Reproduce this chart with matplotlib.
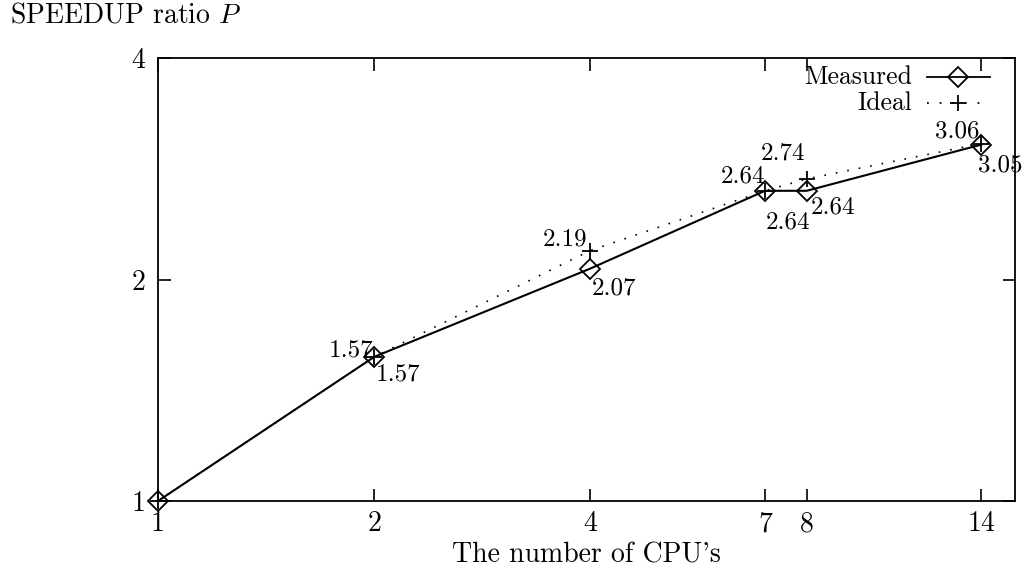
import matplotlib
matplotlib.use("Agg")
import matplotlib.pyplot as plt
from matplotlib.ticker import FixedLocator, NullLocator, FixedFormatter

plt.rcParams["font.family"] = "serif"
plt.rcParams["font.serif"] = ["cmr10", "DejaVu Serif"]
plt.rcParams["mathtext.fontset"] = "cm"
plt.rcParams["axes.unicode_minus"] = False
plt.rcParams["axes.formatter.use_mathtext"] = True

# data
cpus = [1, 2, 4, 7, 8, 14]
measured = [1.0, 1.57, 2.07, 2.64, 2.64, 3.05]
ideal = [1.0, 1.57, 2.19, 2.64, 2.74, 3.06]
measured_labels = ["", "1.57", "2.07", "2.64", "2.64", "3.05"]
ideal_labels = ["", "1.57", "2.19", "2.64", "2.74", "3.06"]
xticks = [1, 2, 4, 7, 8, 14]
yticks = [1, 2, 4]

# label nudges in pixels (ideal: right/baseline, measured: left/baseline)
ideal_off = [(0, 0), (-1, 0), (-3, 5), (0, 8), (-1, 19), (-2, 6)]
meas_off = [(0, 0), (2, -24), (1, -26), (1, -38), (4, -23), (-3, -27)]

DOTS = (0, (1, 6))

fig = plt.figure(figsize=(10.24, 5.75), dpi=100)
ax = fig.add_axes([0.1543, 0.1287, 0.8369, 0.7704])

ax.plot(cpus, ideal, color="black", lw=1.2, linestyle=DOTS,
        marker="+", markersize=11, markeredgewidth=1.3, clip_on=False)
ax.plot(cpus, measured, color="black", lw=1.5, linestyle="-",
        marker="D", markersize=10, markerfacecolor="none",
        markeredgecolor="black", markeredgewidth=1.3, clip_on=False)

for x, y, s, (dx, dy) in zip(cpus, ideal, ideal_labels, ideal_off):
    if s:
        ax.annotate(s, (x, y), xytext=(dx, dy), textcoords="offset pixels",
                    ha="right", va="baseline", fontsize=18)
for x, y, s, (dx, dy) in zip(cpus, measured, measured_labels, meas_off):
    if s:
        ax.annotate(s, (x, y), xytext=(dx, dy), textcoords="offset pixels",
                    ha="left", va="baseline", fontsize=18)

ax.set_xscale("log")
ax.set_yscale("log")
ax.set_xlim(1, 15.6)
ax.set_ylim(1, 4)
ax.xaxis.set_major_locator(FixedLocator(xticks))
ax.xaxis.set_major_formatter(FixedFormatter([str(t) for t in xticks]))
ax.xaxis.set_minor_locator(NullLocator())
ax.yaxis.set_major_locator(FixedLocator(yticks))
ax.yaxis.set_major_formatter(FixedFormatter([str(t) for t in yticks]))
ax.yaxis.set_minor_locator(NullLocator())
ax.tick_params(direction="in", top=True, right=True, length=9, width=1.2,
               labelsize=20)
ax.tick_params(axis="x", pad=7)
ax.tick_params(axis="y", pad=9)

for sp in ax.spines.values():
    sp.set_linewidth(1.3)

ax.set_xlabel("The number of CPU's", fontsize=20, labelpad=4)
fig.text(0.010, 0.997, r"SPEEDUP ratio $P$", fontsize=20, ha="left", va="top")

# legend drawn by hand (right-aligned text, sample after text)
lx0, lx1, lxm, ltx = 0.897, 0.971, 0.933, 0.880
for yy, name, ls, mk, kw in [
        (0.957, "Measured", "-", "D", dict(markersize=10, markerfacecolor="none")),
        (0.898, "Ideal", DOTS, "+", dict(markersize=11))]:
    ax.text(ltx, yy, name, transform=ax.transAxes, ha="right",
            va="center", fontsize=18.5)
    ax.plot([lx0, lx1], [yy, yy], transform=ax.transAxes, color="black",
            lw=1.3, linestyle=ls, clip_on=False)
    ax.plot([lxm], [yy], transform=ax.transAxes, color="black", marker=mk,
            markeredgewidth=1.3, clip_on=False, **kw)

fig.savefig("out.png", dpi=100, facecolor="white")
